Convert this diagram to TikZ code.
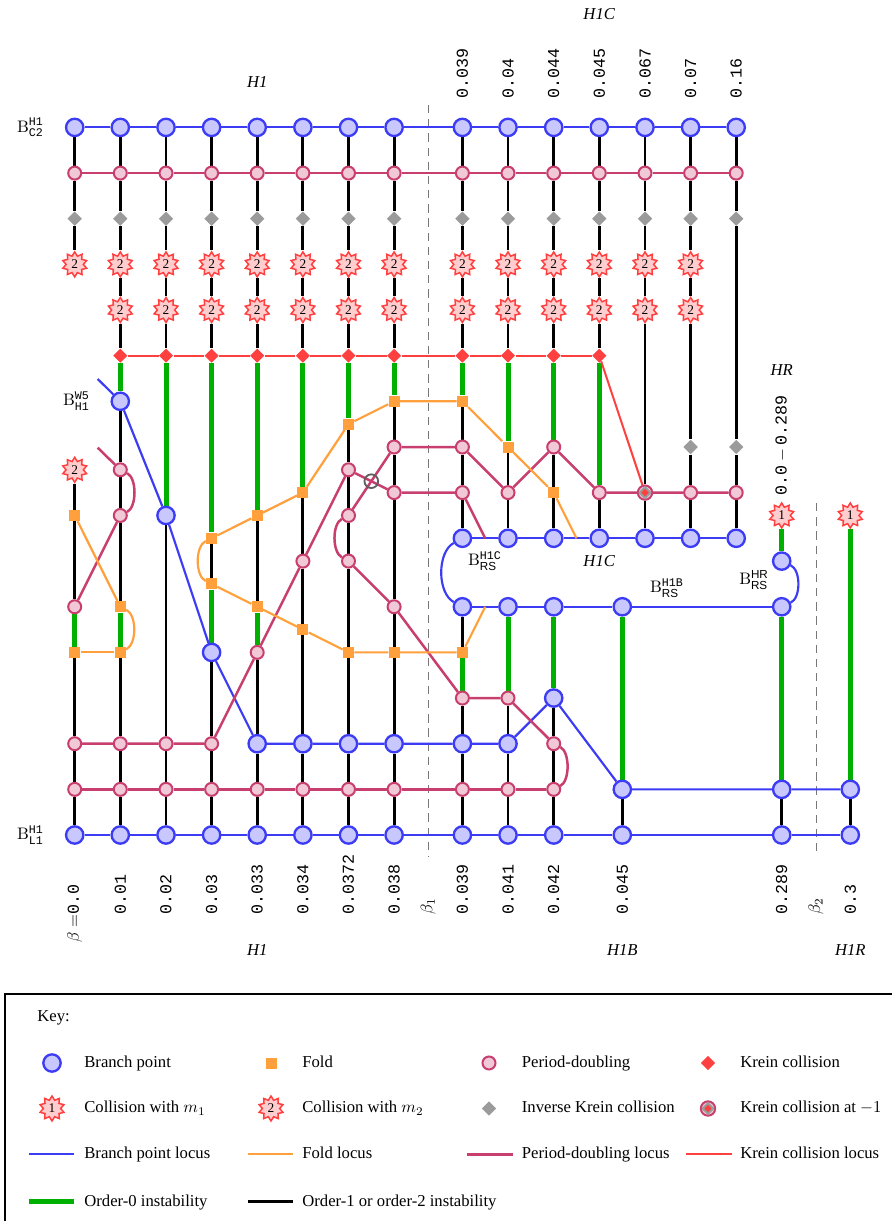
\documentclass[tikz,border=0pt]{standalone}
\usepackage{amsmath}
\usepackage[no-math]{fontspec}
\setmainfont{Liberation Serif}
\setsansfont{Liberation Sans}
\setmonofont{Liberation Mono}
\usetikzlibrary{shapes.geometric}
\definecolor{bpb}{RGB}{60,60,245}
\definecolor{bpf}{RGB}{200,200,255}
\definecolor{pdc}{RGB}{200,62,110}
\definecolor{pdfl}{RGB}{240,200,214}
\definecolor{fdc}{RGB}{255,160,60}
\definecolor{krc}{RGB}{255,64,64}
\definecolor{ikc}{RGB}{155,155,155}
\definecolor{grc}{RGB}{0,176,0}
\definecolor{stf}{RGB}{255,205,205}
\definecolor{dshc}{RGB}{120,120,120}
\definecolor{xgc}{RGB}{95,95,95}
\pgfdeclarelayer{bg}
\pgfsetlayers{bg,main}
\begin{document}
\begin{tikzpicture}[x=0.6pt,y=-0.6pt,
  bpn/.style={circle,draw=bpb,fill=bpf,line width=1.4pt,minimum size=10.4pt,inner sep=0pt},
  pdn/.style={circle,draw=pdc,fill=pdfl,line width=1.2pt,minimum size=7.8pt,inner sep=0pt},
  fdn/.style={rectangle,fill=fdc,minimum size=6.6pt,inner sep=0pt},
  krn/.style={diamond,fill=krc,minimum size=8.6pt,inner sep=0pt},
  ikn/.style={diamond,fill=ikc,minimum size=8.8pt,inner sep=0pt},
  stn/.style={star,star points=10,star point ratio=1.45,draw=krc,fill=stf,line width=0.9pt,minimum size=15pt,inner sep=0pt,label={[inner sep=0pt,font=\footnotesize]center:#1}},
  blk/.style={black,line width=1.7pt},
  grn/.style={grc,line width=3pt},
  bl/.style={bpb,line width=1.3pt},
  pk/.style={pdc,line width=1.5pt},
  og/.style={fdc,line width=1.3pt},
  rd/.style={krc,line width=1.2pt},
  dsh/.style={dshc,line width=0.6pt,dash pattern=on 5pt off 3.5pt},
  lbl/.style={inner sep=0pt},
  rlbl/.style={inner sep=0pt,rotate=90,anchor=west}
]
\useasboundingbox (0,0) rectangle (891,1221);

% ---------------- top rows ----------------
\foreach \i/\x in {0/74.7,1/120.3,2/166.0,3/211.6,4/257.2,5/302.9,6/348.5,7/394.1,8/462.4,9/508.0,10/553.7,11/599.3,12/645.0,13/690.6,14/736.2} {
  \node[bpn] (T\i) at (\x,127.4) {};
  \node[pdn] (P\i) at (\x,173.1) {};
  \node[ikn] (G\i) at (\x,218.7) {};
}
\foreach \i/\x in {0/74.7,1/120.3,2/166.0,3/211.6,4/257.2,5/302.9,6/348.5,7/394.1,8/462.4,9/508.0,10/553.7,11/599.3,12/645.0,13/690.6}
  \node[stn=2] (S\i) at (\x,264.4) {};
\foreach \i/\x in {1/120.3,2/166.0,3/211.6,4/257.2,5/302.9,6/348.5,7/394.1,8/462.4,9/508.0,10/553.7,11/599.3,12/645.0,13/690.6}
  \node[stn=2] (Q\i) at (\x,310.0) {};
\foreach \i/\x in {1/120.3,2/166.0,3/211.6,4/257.2,5/302.9,6/348.5,7/394.1,8/462.4,9/508.0,10/553.7,11/599.3}
  \node[krn] (K\i) at (\x,355.7) {};

% ---------------- bottom rows ----------------
\foreach \i/\x in {0/74.7,1/120.3,2/166.0,3/211.6,4/257.2,5/302.9,6/348.5,7/394.1,8/462.4,9/508.0,10/553.7} {
  \node[bpn] (L0-\i) at (\x,835.0) {};
  \node[pdn] (L1-\i) at (\x,789.35) {};
}
\node[bpn] (L0-A) at (622.3,835.0) {};
\node[bpn] (L0-B) at (781.7,835.0) {};
\node[bpn] (L0-C) at (850.3,835.0) {};
\node[bpn] (L1-A) at (622.3,789.35) {};
\node[bpn] (L1-B) at (781.7,789.35) {};
\node[bpn] (L1-C) at (850.3,789.35) {};
\foreach \i/\x in {0/74.7,1/120.3,2/166.0,3/211.6}
  \node[pdn] (L2-\i) at (\x,743.7) {};
\foreach \i/\x in {4/257.2,5/302.9,6/348.5,7/394.1,8/462.4,9/508.0}
  \node[bpn] (L2-\i) at (\x,743.7) {};
\node[pdn] (L2-10) at (553.7,743.7) {};

% ---------------- middle, column by column ----------------
% c0
\node[stn=2] (a0s) at (74.7,469.8) {};
\node[fdn] (a0f7) at (74.7,515.45) {};
\node[pdn] (a0p5) at (74.7,606.75) {};
\node[fdn] (a0f4) at (74.7,652.4) {};
% c1
\node[bpn] (a1b95) at (120.3,401.3) {};
\node[pdn] (a1p8) at (120.3,469.8) {};
\node[pdn] (a1p7) at (120.3,515.45) {};
\node[fdn] (a1f5) at (120.3,606.75) {};
\node[fdn] (a1f4) at (120.3,652.4) {};
% c2
\node[bpn] (a2b7) at (166.0,515.45) {};
% c3
\node[fdn] (a3f65) at (211.6,538.3) {};
\node[fdn] (a3f55) at (211.6,583.9) {};
\node[bpn] (a3b4) at (211.6,652.4) {};
% c4
\node[fdn] (a4f7) at (257.2,515.45) {};
\node[fdn] (a4f5) at (257.2,606.75) {};
\node[pdn] (a4p4) at (257.2,652.4) {};
% c5
\node[fdn] (a5f75) at (302.9,492.6) {};
\node[pdn] (a5p6) at (302.9,561.1) {};
\node[fdn] (a5f45) at (302.9,629.6) {};
% c6
\node[fdn] (a6f9) at (348.5,424.15) {};
\node[pdn] (a6p8) at (348.5,469.8) {};
\node[pdn] (a6p7) at (348.5,515.45) {};
\node[pdn] (a6p6) at (348.5,561.1) {};
\node[fdn] (a6f4) at (348.5,652.4) {};
% c7
\node[fdn] (a7f95) at (394.1,401.3) {};
\node[pdn] (a7p85) at (394.1,447.0) {};
\node[pdn] (a7p75) at (394.1,492.6) {};
\node[pdn] (a7p5) at (394.1,606.75) {};
\node[fdn] (a7f4) at (394.1,652.4) {};
% c8
\node[fdn] (a8f95) at (462.4,401.3) {};
\node[pdn] (a8p85) at (462.4,447.0) {};
\node[pdn] (a8p75) at (462.4,492.6) {};
\node[bpn] (a8b65) at (462.4,538.3) {};
\node[bpn] (a8b5) at (462.4,606.75) {};
\node[fdn] (a8f4) at (462.4,652.4) {};
\node[pdn] (a8p3) at (462.4,698.05) {};
% c9
\node[fdn] (a9f85) at (508.0,447.0) {};
\node[pdn] (a9p75) at (508.0,492.6) {};
\node[bpn] (a9b65) at (508.0,538.3) {};
\node[bpn] (a9b5) at (508.0,606.75) {};
\node[pdn] (a9p3) at (508.0,698.05) {};
% c10
\node[pdn] (a10p85) at (553.7,447.0) {};
\node[fdn] (a10f75) at (553.7,492.6) {};
\node[bpn] (a10b65) at (553.7,538.3) {};
\node[bpn] (a10b5) at (553.7,606.75) {};
\node[bpn] (a10b3) at (553.7,698.05) {};
% c11
\node[pdn] (a11p75) at (599.3,492.6) {};
\node[bpn] (a11b65) at (599.3,538.3) {};
% c12
\node[pdn,minimum size=8.6pt] (M12) at (645.0,492.6) {};
\node[ikn,minimum size=8.2pt] (M12g) at (M12) {};
\node[krn,minimum size=4.6pt] (M12r) at (M12) {};
\node[bpn] (a12b65) at (645.0,538.3) {};
% c13
\node[ikn] (a13g85) at (690.6,447.0) {};
\node[pdn] (a13p75) at (690.6,492.6) {};
\node[bpn] (a13b65) at (690.6,538.3) {};
% c14
\node[ikn] (a14g85) at (736.2,447.0) {};
\node[pdn] (a14p75) at (736.2,492.6) {};
\node[bpn] (a14b65) at (736.2,538.3) {};
% 0.045
\node[bpn] (aAb5) at (622.3,606.75) {};
% HR / 0.289
\node[stn=1] (aBs) at (781.7,515.45) {};
\node[bpn] (aBb6) at (781.7,561.1) {};
\node[bpn] (aBb5) at (781.7,606.75) {};
% 0.3
\node[stn=1] (aCs) at (850.3,515.45) {};

% crossing marker
\node[circle,draw=xgc,line width=1.1pt,minimum size=8.2pt,inner sep=0pt] (X) at (371.3,481.2) {};

% free ends
\coordinate (bfree) at (97.7,379.0);
\coordinate (pfreeA) at (97.7,447.7);
\coordinate (pfreeB) at (485.2,538.3);
\coordinate (ofreeA) at (576.5,538.3);
\coordinate (ofreeB) at (485.2,606.75);
\coordinate (d1t) at (428.3,105);
\coordinate (d1b) at (428.3,857);
\coordinate (d2t) at (816.0,503);
\coordinate (d2b) at (816.0,857);

\begin{pgfonlayer}{bg}
\draw[dsh] (d1t) -- (d1b);
\draw[dsh] (d2t) -- (d2b);
% ---- instability lines (vertical) ----
\foreach \i in {0,...,14} \draw[blk] (T\i) -- (P\i) -- (G\i);
\foreach \i in {0,...,13} \draw[blk] (G\i) -- (S\i);
\foreach \i in {1,...,13} \draw[blk] (S\i) -- (Q\i);
\foreach \i in {1,...,11} \draw[blk] (Q\i) -- (K\i);
% c0
\draw[blk] (a0s) -- (a0f7) -- (a0p5);
\draw[grn] (a0p5) -- (a0f4);
\draw[blk] (a0f4) -- (L2-0) -- (L1-0) -- (L0-0);
% c1
\draw[grn] (K1) -- (a1b95);
\draw[blk] (a1b95) -- (a1p8) -- (a1p7) -- (a1f5);
\draw[grn] (a1f5) -- (a1f4);
\draw[blk] (a1f4) -- (L2-1) -- (L1-1) -- (L0-1);
% c2
\draw[grn] (K2) -- (a2b7);
\draw[blk] (a2b7) -- (L2-2) -- (L1-2) -- (L0-2);
% c3
\draw[grn] (K3) -- (a3f65);
\draw[blk] (a3f65) -- (a3f55);
\draw[grn] (a3f55) -- (a3b4);
\draw[blk] (a3b4) -- (L2-3) -- (L1-3) -- (L0-3);
% c4
\draw[grn] (K4) -- (a4f7);
\draw[blk] (a4f7) -- (a4f5);
\draw[grn] (a4f5) -- (a4p4);
\draw[blk] (a4p4) -- (L2-4) -- (L1-4) -- (L0-4);
% c5
\draw[grn] (K5) -- (a5f75);
\draw[blk] (a5f75) -- (a5p6) -- (a5f45) -- (L2-5) -- (L1-5) -- (L0-5);
% c6
\draw[grn] (K6) -- (a6f9);
\draw[blk] (a6f9) -- (a6p8) -- (a6p7) -- (a6p6) -- (a6f4) -- (L2-6) -- (L1-6) -- (L0-6);
% c7
\draw[grn] (K7) -- (a7f95);
\draw[blk] (a7f95) -- (a7p85) -- (a7p75) -- (a7p5) -- (a7f4) -- (L2-7) -- (L1-7) -- (L0-7);
% c8
\draw[grn] (K8) -- (a8f95);
\draw[blk] (a8f95) -- (a8p85) -- (a8p75) -- (a8b65);
\draw[blk] (a8b5) -- (a8f4);
\draw[grn] (a8f4) -- (a8p3);
\draw[blk] (a8p3) -- (L2-8) -- (L1-8) -- (L0-8);
% c9
\draw[grn] (K9) -- (a9f85);
\draw[blk] (a9f85) -- (a9p75) -- (a9b65);
\draw[grn] (a9b5) -- (a9p3);
\draw[blk] (a9p3) -- (L2-9) -- (L1-9) -- (L0-9);
% c10
\draw[grn] (K10) -- (a10p85);
\draw[blk] (a10p85) -- (a10f75) -- (a10b65);
\draw[grn] (a10b5) -- (a10b3);
\draw[blk] (a10b3) -- (L2-10) -- (L1-10) -- (L0-10);
% c11
\draw[grn] (K11) -- (a11p75);
\draw[blk] (a11p75) -- (a11b65);
% c12, c13, c14
\draw[blk] (Q12) -- (M12) -- (a12b65);
\draw[blk] (Q13) -- (a13g85) -- (a13p75) -- (a13b65);
\draw[blk] (G14) -- (a14g85) -- (a14p75) -- (a14b65);
% 0.045, 0.289, 0.3
\draw[grn] (aAb5) -- (L1-A);
\draw[blk] (L1-A) -- (L0-A);
\draw[grn] (aBs) -- (aBb6);
\draw[grn] (aBb5) -- (L1-B);
\draw[blk] (L1-B) -- (L0-B);
\draw[grn] (aCs) -- (L1-C);
\draw[blk] (L1-C) -- (L0-C);

% ---- branch point loci ----
\foreach \i [count=\j] in {0,...,13} \draw[bl] (T\i) -- (T\j);
\foreach \i [count=\j] in {0,...,9} \draw[bl] (L0-\i) -- (L0-\j);
\draw[bl] (L0-10) -- (L0-A) -- (L0-B) -- (L0-C);
\draw[bl] (bfree) -- (a1b95) -- (a2b7) -- (a3b4) -- (L2-4) -- (L2-5) -- (L2-6) -- (L2-7) -- (L2-8) -- (L2-9) -- (a10b3) -- (L1-A) -- (L1-B) -- (L1-C);
\draw[bl] (a8b65) -- (a9b65) -- (a10b65) -- (a11b65) -- (a12b65) -- (a13b65) -- (a14b65);
\draw[bl] (a8b5) -- (a9b5) -- (a10b5) -- (aAb5) -- (aBb5);
\draw[bl] (a8b65) .. controls (437,552) and (437,593) .. (a8b5);
\draw[bl] (aBb6) .. controls (801,570) and (801,598) .. (aBb5);

% ---- period-doubling loci ----
\foreach \i [count=\j] in {0,...,13} \draw[pk] (P\i) -- (P\j);
\foreach \i [count=\j] in {0,...,9} \draw[pk] (L1-\i) -- (L1-\j);
\draw[pk] (L2-0) -- (L2-1) -- (L2-2) -- (L2-3) -- (a4p4) -- (a5p6) -- (a6p8) -- (a7p75) -- (a8p75) -- (pfreeB);
\draw[pk] (pfreeA) -- (a1p8);
\draw[pk] (a1p8) .. controls (137,478) and (137,507) .. (a1p7);
\draw[pk] (a1p7) -- (a0p5);
\draw[pk] (a6p7) -- (a7p85) -- (a8p85) -- (a9p75) -- (a10p85) -- (a11p75) -- (M12) -- (a13p75) -- (a14p75);
\draw[pk] (a6p7) .. controls (332,524) and (332,552) .. (a6p6);
\draw[pk] (a6p6) -- (a7p5) -- (a8p3) -- (a9p3) -- (L2-10);
\draw[pk] (L2-10) .. controls (570,752) and (570,781) .. (L1-10);

% ---- fold loci ----
\draw[og] (a0f7) -- (a1f5);
\draw[og] (a1f5) .. controls (137,615) and (137,644) .. (a1f4);
\draw[og] (a1f4) -- (a0f4);
\draw[og] (a3f65) -- (a4f7) -- (a5f75) -- (a6f9) -- (a7f95) -- (a8f95) -- (a9f85) -- (a10f75) -- (ofreeA);
\draw[og] (a3f65) .. controls (195,546) and (195,576) .. (a3f55);
\draw[og] (a3f55) -- (a4f5) -- (a5f45) -- (a6f4) -- (a7f4) -- (a8f4) -- (ofreeB);

% ---- Krein collision locus ----
\foreach \i [count=\j from 2] in {1,...,10} \draw[rd] (K\i) -- (K\j);
\draw[rd] (K11) -- (M12);
\end{pgfonlayer}

% ---------------- labels ----------------
\node[lbl,anchor=east] (lC2) at (44,127.4) {$\mathrm{B}^{\texttt{H1}}_{\texttt{C2}}$};
\node[lbl,anchor=east] (lW5) at (90,401.3) {$\mathrm{B}^{\texttt{W5}}_{\texttt{H1}}$};
\node[lbl,anchor=east] (lL1) at (44,835.0) {$\mathrm{B}^{\texttt{H1}}_{\texttt{L1}}$};
\node[lbl] (lRSC) at (485,561) {$\mathrm{B}^{\texttt{H1C}}_{\textsf{RS}}$};
\node[lbl] (lRSB) at (667,588) {$\mathrm{B}^{\texttt{H1B}}_{\textsf{RS}}$};
\node[lbl] (lRSR) at (754,580) {$\mathrm{B}^{\textsf{HR}}_{\textsf{RS}}$};
\node[lbl] (mH1C) at (599.3,561.5) {\textit{H1C}};

\node[lbl] (tH1) at (257.2,82) {\textit{H1}};
\node[lbl] (tH1C) at (599.3,14) {\textit{H1C}};
\node[lbl] (tHR) at (781.7,370) {\textit{HR}};
\node[lbl] (bH1) at (257.2,950) {\textit{H1}};
\node[lbl] (bH1B) at (622.3,950) {\textit{H1B}};
\node[lbl] (bH1R) at (850.3,950) {\textit{H1R}};

\foreach \x/\t [count=\k] in {462.4/0.039,508.0/0.04,553.7/0.044,599.3/0.045,645.0/0.067,690.6/0.07,736.2/0.16}
  \node[rlbl] (tn\k) at (\x,99) {\texttt{\t}};
\node[rlbl] (tnHR) at (781.7,496) {$\texttt{0.0}-\texttt{0.289}$};

\node[rlbl] (bn0) at (74.7,915) {\llap{$\beta =$}\texttt{0.0}};
\foreach \x/\t [count=\k] in {120.3/0.01,166.0/0.02,211.6/0.03,257.2/0.033,302.9/0.034,348.5/0.0372,394.1/0.038,462.4/0.039,508.0/0.041,553.7/0.042,622.3/0.045,781.7/0.289,850.3/0.3}
  \node[rlbl] (bn\k) at (\x,915) {\texttt{\t}};
\node[rlbl] (bb1) at (428.3,915) {$\beta_1$};
\node[rlbl] (bb2) at (816.0,915) {$\beta_2$};

% ---------------- key ----------------
\draw[line width=0.8pt] (5,994) rectangle (900,1232);
\node[lbl,anchor=base west] (kT) at (37,1021.5) {Key:};

\node[bpn] (k1) at (52,1063) {};
\node[lbl,anchor=base west] (k1t) at (84,1067.3) {Branch point};
\node[fdn] (k2) at (271,1063) {};
\node[lbl,anchor=base west] (k2t) at (302,1067.3) {Fold};
\node[pdn] (k3) at (489,1063) {};
\node[lbl,anchor=base west] (k3t) at (521.6,1067.3) {Period-doubling};
\node[krn] (k4) at (708,1063) {};
\node[lbl,anchor=base west] (k4t) at (740,1067.3) {Krein collision};

\node[stn=1] (k5) at (52,1108.5) {};
\node[lbl,anchor=base west] (k5t) at (84,1112.7) {Collision with $m_1$};
\node[stn=2] (k6) at (271,1108.5) {};
\node[lbl,anchor=base west] (k6t) at (302,1112.7) {Collision with $m_2$};
\node[ikn] (k7) at (489,1108.5) {};
\node[lbl,anchor=base west] (k7t) at (521.6,1112.7) {Inverse Krein collision};
\node[pdn,minimum size=8.6pt] (k8) at (708,1108.5) {};
\node[ikn,minimum size=8.2pt] (k8g) at (k8) {};
\node[krn,minimum size=4.6pt] (k8r) at (k8) {};
\node[lbl,anchor=base west] (k8t) at (740,1112.7) {Krein collision at $-1$};

\coordinate (k9a) at (29.3,1154.3);  \coordinate (k9b) at (74.3,1154.3);
\coordinate (k10a) at (248.3,1154.3); \coordinate (k10b) at (293.3,1154.3);
\coordinate (k11a) at (467,1154.3);  \coordinate (k11b) at (512.5,1154.3);
\coordinate (k12a) at (686,1154.3);  \coordinate (k12b) at (732,1154.3);
\coordinate (k13a) at (29.3,1201.7); \coordinate (k13b) at (74.3,1201.7);
\coordinate (k14a) at (248.3,1201.7); \coordinate (k14b) at (293.3,1201.7);
\draw[bl] (k9a) -- (k9b);
\draw[og] (k10a) -- (k10b);
\draw[pk] (k11a) -- (k11b);
\draw[rd] (k12a) -- (k12b);
\draw[grn] (k13a) -- (k13b);
\draw[blk] (k14a) -- (k14b);
\node[lbl,anchor=base west] (k9t) at (84,1158.3) {Branch point locus};
\node[lbl,anchor=base west] (k10t) at (302,1158.3) {Fold locus};
\node[lbl,anchor=base west] (k11t) at (521.6,1158.3) {Period-doubling locus};
\node[lbl,anchor=base west] (k12t) at (740,1158.3) {Krein collision locus};
\node[lbl,anchor=base west] (k13t) at (84,1206) {Order-0 instability};
\node[lbl,anchor=base west] (k14t) at (302,1206) {Order-1 or order-2 instability};
\end{tikzpicture}
\end{document}
